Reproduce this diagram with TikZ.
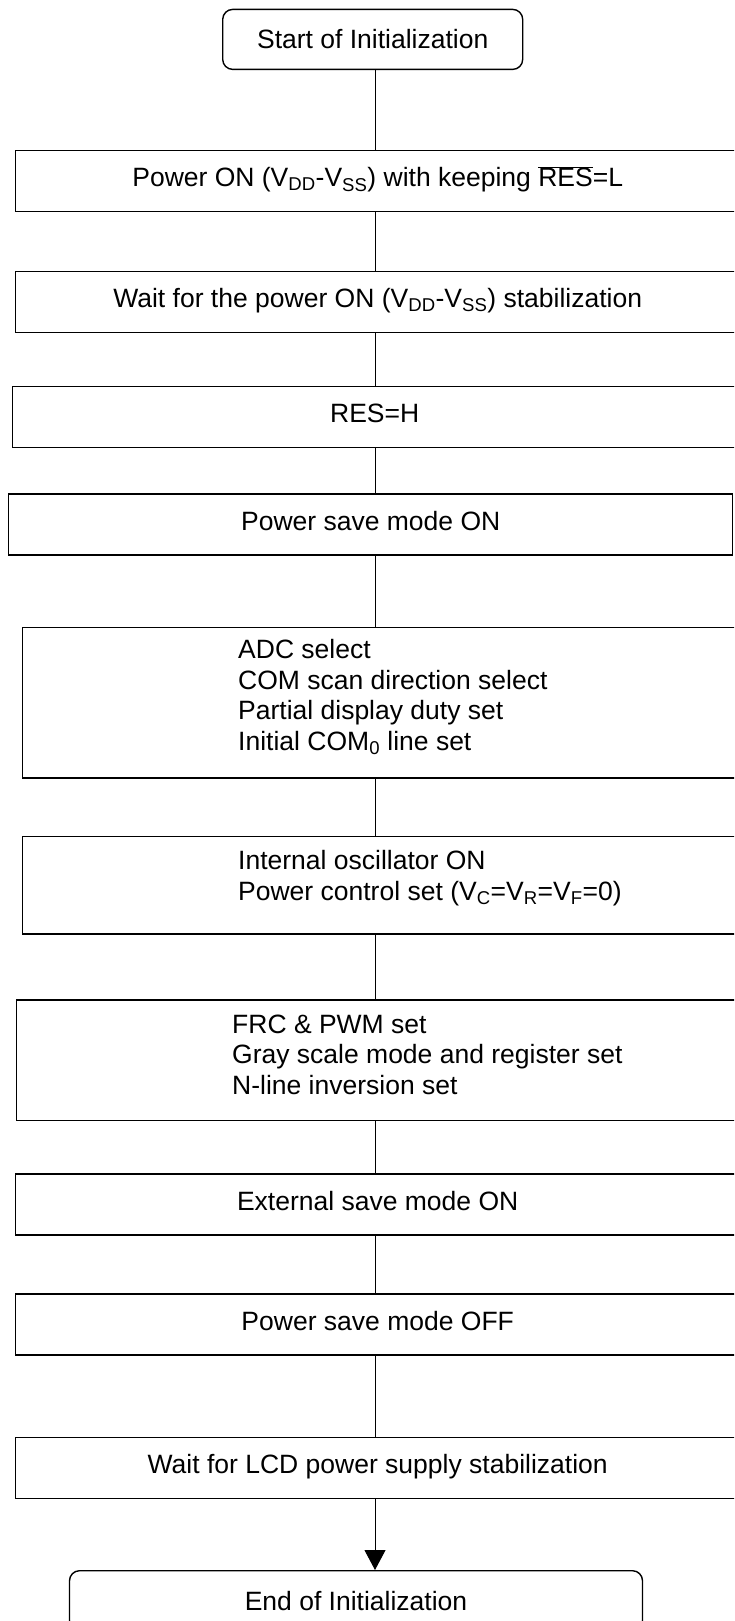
\documentclass[tikz,border=0pt]{standalone}
\usepackage{fontspec}
\setmainfont{Liberation Sans}
\usetikzlibrary{arrows.meta}
\newcommand{\barres}[1]{$\overline{\mbox{#1}}$}
\tikzset{
  framed/.style={draw, line width=1.4pt, anchor=north west, inner sep=0pt},
  stepbox/.style={framed, minimum width=724pt, minimum height=61pt,
    text height=19pt, text depth=8pt},
  termbox/.style={framed, rounded corners=10pt, minimum height=60pt},
  listtext/.style={anchor=north west, align=left, inner sep=0pt},
  flow/.style={line width=1pt}
}

\begin{document}
\begin{tikzpicture}[x=1pt, y=-1pt, font=\fontsize{26.5}{30.5}\selectfont]
\useasboundingbox (0,0) rectangle (734,1621);
\clip (0,0) rectangle (734,1621);
\coordinate (spine) at (375,0);

% Start
\node[termbox, minimum width=300pt] (start) at (222,8.7) {Start of Initialization};

% Power on
\node[stepbox] (pon) at (15,150) {Power ON (V\textsubscript{DD}-V\textsubscript{SS}) with keeping \barres{RES}=L};
\node[stepbox] (pwait) at (15,270.7) {Wait for the power ON (V\textsubscript{DD}-V\textsubscript{SS}) stabilization};
\node[stepbox] (reset) at (12,385.7) {RES=H};
\node[stepbox] (psaveon) at (8,493.3) {Power save mode ON};

% Display settings
\node[stepbox, minimum height=150.6pt] (adc) at (22,626.7) {};
\node[listtext] (adctext) at (238,639.5) {ADC select\\COM scan direction select\\Partial display duty set\\Initial COM\textsubscript{0} line set};

% Oscillator and power control
\node[stepbox, minimum height=97.3pt] (osc) at (22,836) {};
\node[listtext] (osctext) at (238,850.5) {Internal oscillator ON\\Power control set (V\textsubscript{C}=V\textsubscript{R}=V\textsubscript{F}=0)};

% Gray scale
\node[stepbox, minimum height=120.7pt] (frc) at (15.5,999.3) {};
\node[listtext] (frctext) at (232,1014.3) {FRC \& PWM set\\Gray scale mode and register set\\N-line inversion set};

% Save modes
\node[stepbox] (extsave) at (15,1173.3) {External save mode ON};
\node[stepbox] (psaveoff) at (15,1293.3) {Power save mode OFF};
\node[stepbox] (lcdwait) at (15,1436.7) {Wait for LCD power supply stabilization};

% End
\node[termbox, minimum width=573pt] (finish) at (68.8,1570) {End of Initialization};

% Flow lines
\draw[flow] (start.south -| spine) -- (pon.north -| spine);
\draw[flow] (pon.south -| spine) -- (pwait.north -| spine);
\draw[flow] (pwait.south -| spine) -- (reset.north -| spine);
\draw[flow] (reset.south -| spine) -- (psaveon.north -| spine);
\draw[flow] (psaveon.south -| spine) -- (adc.north -| spine);
\draw[flow] (adc.south -| spine) -- (osc.north -| spine);
\draw[flow] (osc.south -| spine) -- (frc.north -| spine);
\draw[flow] (frc.south -| spine) -- (extsave.north -| spine);
\draw[flow] (extsave.south -| spine) -- (psaveoff.north -| spine);
\draw[flow] (psaveoff.south -| spine) -- (lcdwait.north -| spine);
\draw[flow, -{Triangle[length=20pt, width=21pt]}] (lcdwait.south -| spine) -- (finish.north -| spine);

\end{tikzpicture}
\end{document}
